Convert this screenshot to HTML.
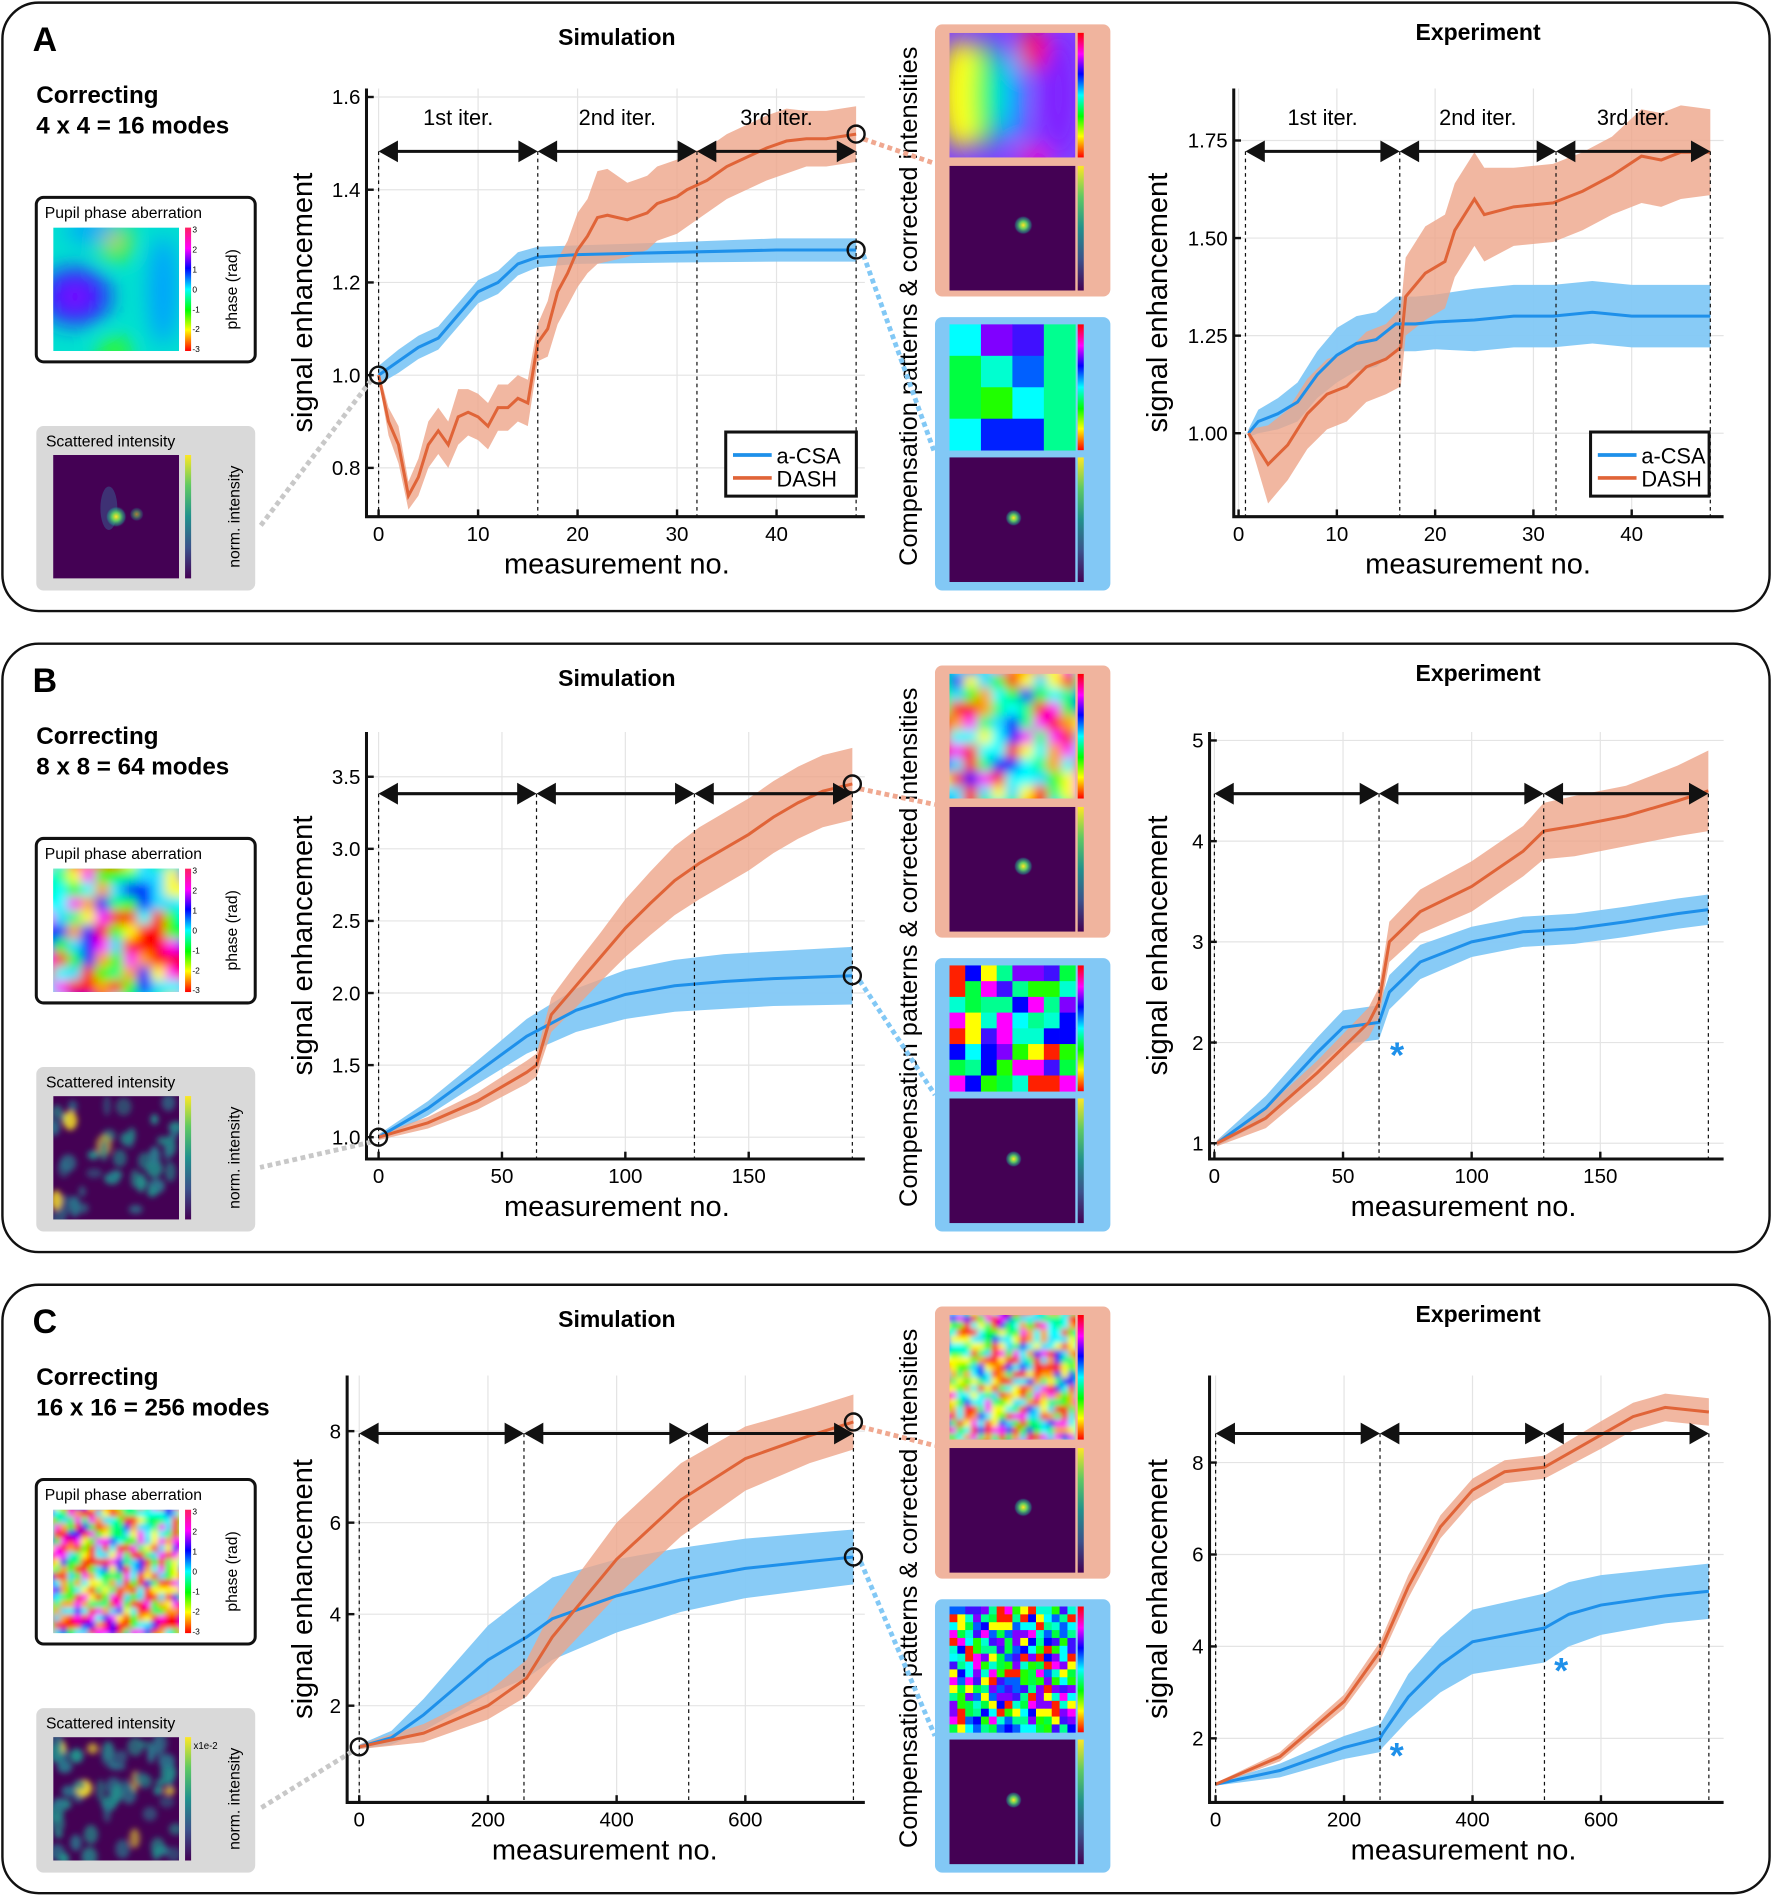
<!DOCTYPE html>
<html><head><meta charset="utf-8"><style>
html,body{margin:0;padding:0;background:#fff;}
svg{display:block;font-family:"Liberation Sans",sans-serif;}
</style></head><body>
<svg id="fig" width="1772" height="1897" viewBox="0 0 1465 1568" xmlns="http://www.w3.org/2000/svg">
<defs id="defs">
<linearGradient id="viridis" x1="0" y1="1" x2="0" y2="0"><stop offset="0" stop-color="#440154"/><stop offset="0.25" stop-color="#3b528b"/><stop offset="0.5" stop-color="#21918c"/><stop offset="0.75" stop-color="#5ec962"/><stop offset="1" stop-color="#fde725"/></linearGradient>
<linearGradient id="hsvbar" x1="0" y1="1" x2="0" y2="0"><stop offset="0" stop-color="#ff0000"/><stop offset="0.17" stop-color="#ffff00"/><stop offset="0.33" stop-color="#00ff00"/><stop offset="0.5" stop-color="#00ffff"/><stop offset="0.67" stop-color="#0000ff"/><stop offset="0.83" stop-color="#ff00ff"/><stop offset="1" stop-color="#ff0000"/></linearGradient>
<linearGradient id="jetbar" x1="0" y1="1" x2="0" y2="0"><stop offset="0" stop-color="#ff0000"/><stop offset="0.17" stop-color="#ffff00"/><stop offset="0.33" stop-color="#00ff00"/><stop offset="0.5" stop-color="#00ffff"/><stop offset="0.67" stop-color="#0000ff"/><stop offset="0.83" stop-color="#ff00ff"/><stop offset="1" stop-color="#ff2060"/></linearGradient>
<radialGradient id="spot"><stop offset="0" stop-color="#fde725"/><stop offset="0.4" stop-color="#5ec962"/><stop offset="0.8" stop-color="#21918c" stop-opacity="0.5"/><stop offset="1" stop-color="#440154" stop-opacity="0"/></radialGradient>
<filter id="blurA" x="-5%" y="-5%" width="110%" height="110%"><feGaussianBlur stdDeviation="9"/></filter>
<filter id="blurB" x="-5%" y="-5%" width="110%" height="110%"><feGaussianBlur stdDeviation="4.5"/></filter>
<filter id="blurC" x="-5%" y="-5%" width="110%" height="110%"><feGaussianBlur stdDeviation="2.5"/></filter>
<filter id="blurS" x="-50%" y="-50%" width="200%" height="200%"><feGaussianBlur stdDeviation="2.5"/></filter>
</defs>
<g id="root"></g>
</svg>
<script>
// ===== DATA =====
const aSimCsaX=[0,2,4,6,8,10,12,14,16,20,30,40,48];
const aSimCsaY=[1.0,1.03,1.06,1.08,1.13,1.18,1.2,1.24,1.255,1.26,1.265,1.27,1.27];
const aSimCsaE=[0.02,0.025,0.025,0.025,0.025,0.025,0.025,0.025,0.022,0.02,0.022,0.025,0.025];
const aSimDashX=[0,1,2,3,4,5,6,7,8,9,10,11,12,13,14,15,16,17,18,19,20,21,22,23,25,27,28,30,31,33,35,37,39,41,43,45,48];
const aSimDashY=[1.0,0.9,0.85,0.74,0.78,0.85,0.88,0.85,0.91,0.92,0.91,0.89,0.93,0.93,0.95,0.94,1.07,1.10,1.18,1.22,1.27,1.30,1.34,1.345,1.335,1.35,1.37,1.385,1.40,1.42,1.45,1.47,1.49,1.505,1.51,1.51,1.52];
const aSimDashE=[0.01,0.03,0.04,0.03,0.04,0.05,0.05,0.05,0.06,0.05,0.05,0.05,0.05,0.05,0.05,0.05,0.04,0.06,0.07,0.07,0.08,0.08,0.1,0.1,0.08,0.08,0.08,0.08,0.08,0.07,0.07,0.07,0.07,0.07,0.06,0.06,0.06];
const aExpCsaX=[1,2,4,6,8,10,12,14,16,18,20,24,28,32,36,40,44,48];
const aExpCsaY=[1.0,1.03,1.05,1.08,1.15,1.2,1.23,1.24,1.28,1.28,1.285,1.29,1.30,1.30,1.31,1.30,1.30,1.30];
const aExpCsaE=[0.01,0.03,0.04,0.05,0.06,0.07,0.07,0.07,0.07,0.07,0.07,0.08,0.08,0.08,0.08,0.08,0.08,0.08];
const aExpDashX=[1,3,5,7,9,11,13,15,16.5,17,19,21,22,24,25,28,32,35,38,41,43,45,48];
const aExpDashY=[1.0,0.92,0.97,1.05,1.10,1.12,1.17,1.19,1.22,1.35,1.41,1.44,1.52,1.6,1.56,1.58,1.59,1.62,1.66,1.71,1.70,1.72,1.72];
const aExpDashE=[0.01,0.1,0.09,0.09,0.09,0.09,0.09,0.09,0.1,0.1,0.12,0.12,0.12,0.12,0.12,0.1,0.1,0.1,0.1,0.12,0.12,0.12,0.11];
const bSimCsaX=[0,20,40,60,80,100,120,140,160,192];
const bSimCsaY=[1.0,1.2,1.45,1.7,1.88,1.99,2.05,2.08,2.1,2.12];
const bSimCsaE=[0.02,0.05,0.08,0.12,0.15,0.17,0.18,0.19,0.19,0.2];
const bSimDashX=[0,20,40,60,64,70,80,90,100,110,120,130,140,150,160,170,180,192];
const bSimDashY=[1.0,1.1,1.25,1.45,1.5,1.85,2.05,2.25,2.45,2.62,2.78,2.9,3.0,3.1,3.22,3.32,3.4,3.45];
const bSimDashE=[0.02,0.04,0.06,0.08,0.08,0.12,0.15,0.17,0.2,0.22,0.24,0.25,0.25,0.25,0.25,0.25,0.25,0.25];
const bExpCsaX=[1,20,40,50,64,68,80,100,120,140,160,180,192];
const bExpCsaY=[1.0,1.35,1.9,2.15,2.2,2.5,2.8,3.0,3.1,3.13,3.2,3.28,3.32];
const bExpCsaE=[0.03,0.12,0.15,0.17,0.17,0.17,0.17,0.15,0.15,0.15,0.15,0.15,0.15];
const bExpDashX=[1,20,40,60,64,68,80,100,120,128,140,160,180,192];
const bExpDashY=[1.0,1.25,1.7,2.2,2.4,3.0,3.3,3.55,3.9,4.1,4.15,4.25,4.4,4.5];
const bExpDashE=[0.03,0.1,0.12,0.15,0.15,0.2,0.22,0.25,0.25,0.28,0.3,0.3,0.35,0.4];
const cSimCsaX=[0,50,100,150,200,260,300,400,500,600,700,768];
const cSimCsaY=[1.1,1.3,1.8,2.4,3.0,3.5,3.9,4.4,4.75,5.0,5.15,5.25];
const cSimCsaE=[0.05,0.15,0.35,0.55,0.75,0.9,0.9,0.8,0.7,0.65,0.62,0.6];
const cSimDashX=[0,100,200,260,300,400,500,600,700,768];
const cSimDashY=[1.1,1.4,2.0,2.6,3.5,5.2,6.5,7.4,7.9,8.2];
const cSimDashE=[0.05,0.2,0.3,0.4,0.6,0.8,0.8,0.7,0.6,0.6];
const cExpCsaX=[0,100,200,256,260,300,350,400,512,550,600,700,768];
const cExpCsaY=[1.0,1.3,1.8,2.0,2.1,2.9,3.6,4.1,4.4,4.7,4.9,5.1,5.2];
const cExpCsaE=[0.03,0.15,0.25,0.3,0.3,0.5,0.6,0.7,0.75,0.7,0.65,0.6,0.6];
const cExpDashX=[0,100,200,256,300,350,400,450,512,600,650,700,768];
const cExpDashY=[1.0,1.6,2.8,3.9,5.3,6.6,7.4,7.8,7.9,8.6,9.0,9.2,9.1];
const cExpDashE=[0.03,0.1,0.15,0.2,0.25,0.25,0.25,0.25,0.25,0.3,0.3,0.3,0.3];
const aYTicksSim=[0.8,1.0,1.2,1.4,1.6];
const aYTicksExp=[1.0,1.25,1.5,1.75];
const bYTicksSim=[1.0,1.5,2.0,2.5,3.0,3.5];
const bYTicksExp=[1,2,3,4,5];
const cYTicks=[2,4,6,8];
const aXTicks=[0,10,20,30,40];
const bXTicks=[0,50,100,150];
const cXTicks=[0,200,400,600];
const aIter=[0,16,32,48], aIterExp=[0.7,16.4,32.3,48];
const bIter=[0,64,128,192], cIter=[0,256,512,768];
const iterLabels=["1st iter.","2nd iter.","3rd iter."];

const NS="http://www.w3.org/2000/svg";
const root=document.getElementById('root');
const defs=document.getElementById('defs');
function mk(tag,attrs,parent,text){const e=document.createElementNS(NS,tag);for(const k in attrs)e.setAttribute(k,attrs[k]);if(text!==undefined)e.textContent=text;(parent||root).appendChild(e);return e;}
function fmt(v,d){return v.toFixed(d);}
let seed=12345;function rnd(){seed=(seed*1103515245+12345)%2147483648;return seed/2147483648;}
let clipN=0;
function clipped(g,x,y,w,h){clipN++;const cp=mk('clipPath',{id:'cp'+clipN},defs);mk('rect',{x:x,y:y,width:w,height:h},cp);return mk('g',{'clip-path':`url(#cp${clipN})`},g);}
const rainbow=['#ff0000','#ffff00','#00ff00','#00ffff','#0000ff','#ff00ff','#ff0000','#00ff80','#20e0ff','#ffa000'];
function blobImage(g,x,y,w,h,n,blur,pal,name){
  const c=clipped(g,x,y,w,h);
  
  
  mk('rect',{x:x,y:y,width:w,height:h,fill:'#00ffff'},c);
  const f=mk('g',{filter:`url(#${blur})`},c);
  const cs=w/n;
  for(let i=-1;i<=n;i++)for(let j=-1;j<=n;j++){mk('rect',{x:x+j*cs,y:y+i*cs,width:cs+0.5,height:cs+0.5,fill:pal[Math.floor(rnd()*pal.length)]},f);}
}
function speckle(g,x,y,w,h,count,name){
  const c=clipped(g,x,y,w,h);
  
  
  mk('rect',{x:x,y:y,width:w,height:h,fill:'#440154'},c);
  const f=mk('g',{filter:'url(#blurS)'},c);
  for(let k=0;k<count;k++){const col=rnd()<0.08?'#fde725':(rnd()<0.5?'#2a788e':'#21918c');
    mk('ellipse',{cx:x+rnd()*w,cy:y+rnd()*h,rx:3+rnd()*4,ry:3+rnd()*6,fill:col,opacity:0.5+rnd()*0.5},f);}
}

// ===== PANELS (static) =====
const panelLetters=["A","B","C"];
const modes=["4 x 4 = 16 modes","8 x 8 = 64 modes","16 x 16 = 256 modes"];
const blurs=["blurA","blurB","blurC"];
const grids=[4,9,18];
for(let p=0;p<3;p++){
  const dy=p*530;
  const g=mk('g',{transform:`translate(0,${dy})`});
  
  
  const fr=mk('rect',{x:2,y:2,width:1461,height:503,rx:30,fill:'#fff',stroke:'#111','stroke-width':2},g);
  
  const L=mk('text',{x:27,y:42,'font-size':28,'font-weight':'bold'},g,panelLetters[p]);
  
  const c1=mk('text',{x:30,y:85,'font-size':20,'font-weight':'bold'},g,'Correcting');
  
  const c2=mk('text',{x:30,y:110,'font-size':20,'font-weight':'bold'},g,modes[p]);
  
  // pupil box
  const pb=mk('rect',{x:30,y:163,width:181,height:136,rx:6,fill:'#fff',stroke:'#111','stroke-width':2.5},g);
  
  const pt=mk('text',{x:37,y:180,'font-size':13},g,'Pupil phase aberration');
  
  if(p===0){
    const c=clipped(g,44,188,104,102);
    mk('rect',{x:44,y:188,width:104,height:102,fill:'#00e0d0'},c);
    const f=mk('g',{filter:'url(#blurA)'},c);
    mk('ellipse',{cx:62,cy:245,rx:30,ry:24,fill:'#2020ff'},f);mk('ellipse',{cx:62,cy:245,rx:14,ry:11,fill:'#8000ff'},f);
    mk('ellipse',{cx:95,cy:200,rx:14,ry:16,fill:'#40ff00'},f);mk('ellipse',{cx:95,cy:198,rx:7,ry:8,fill:'#ffa000'},f);
    mk('ellipse',{cx:95,cy:290,rx:14,ry:10,fill:'#40ff00'},f);mk('ellipse',{cx:135,cy:240,rx:12,ry:45,fill:'#00a0ff'},f);
    mk('ellipse',{cx:75,cy:190,rx:20,ry:10,fill:'#00a0ff'},f);
  } else blobImage(g,44,188,104,102,grids[p],blurs[p],rainbow,'pupil-phase-image');
  const pcb=mk('rect',{x:153,y:188,width:5,height:102,fill:'url(#jetbar)'},g);
  
  ['3','2','1','0','-1','-2','-3'].forEach((t,i)=>{mk('text',{x:159,y:192+i*16.5,'font-size':7},g,t);});
  const pr=mk('text',{x:0,y:0,'font-size':13,transform:'translate(196,239) rotate(-90)','text-anchor':'middle'},g,'phase (rad)');
  
  // scattered box
  const sb=mk('rect',{x:30,y:352,width:181,height:136,rx:6,fill:'#d9d9d9'},g);
  
  const st=mk('text',{x:38,y:369,'font-size':13},g,'Scattered intensity');
  
  if(p===0){mk('rect',{x:44,y:376,width:104,height:102,fill:'#440154'},g);
    mk('ellipse',{cx:90,cy:420,rx:7,ry:18,fill:'#3b528b',opacity:0.6},g);
    mk('circle',{cx:96,cy:427,r:9,fill:'url(#spot)'},g);mk('circle',{cx:113,cy:425,r:6,fill:'url(#spot)',opacity:0.55},g);}
  else speckle(g,44,376,104,102,p===1?45:60,'speckle-image');
  mk('rect',{x:153,y:376,width:5,height:102,fill:'url(#viridis)'},g);
  const sl=mk('text',{x:0,y:0,'font-size':13,transform:'translate(198,427) rotate(-90)','text-anchor':'middle'},g,'norm. intensity');
  
  if(p===2)mk('text',{x:160,y:386,'font-size':8},g,'x1e-2');
  // middle column
  const ml=mk('text',{x:0,y:0,'font-size':21,transform:'translate(758,253) rotate(-90)','text-anchor':'middle'},g,'Compensation patterns & corrected intensities');
  
  const ob=mk('rect',{x:773,y:20,width:145,height:225,rx:6,fill:'#f0b49e'},g);
  
  const bb=mk('rect',{x:773,y:262,width:145,height:226,rx:6,fill:'#82c8f5'},g);
  
  if(p===0){
    const c=clipped(g,785,27,104,103);
    mk('rect',{x:785,y:27,width:104,height:103,fill:'#8040ff'},c);
    const f=mk('g',{filter:'url(#blurA)'},c);
    mk('ellipse',{cx:795,cy:78,rx:18,ry:45,fill:'#ffff00'},f);mk('ellipse',{cx:815,cy:78,rx:10,ry:45,fill:'#00ff60'},f);
    mk('ellipse',{cx:835,cy:78,rx:10,ry:40,fill:'#00c0ff'},f);mk('ellipse',{cx:855,cy:40,rx:12,ry:18,fill:'#ff0060'},f);
    mk('ellipse',{cx:855,cy:130,rx:14,ry:8,fill:'#ff00c0'},f);mk('ellipse',{cx:875,cy:78,rx:14,ry:50,fill:'#8020ff'},f);
  } else blobImage(g,785,27,104,103,grids[p],blurs[p],rainbow,'dash-pattern-image');
  mk('rect',{x:891,y:27,width:5,height:103,fill:'url(#hsvbar)'},g);
  mk('rect',{x:785,y:137,width:104,height:103,fill:'#440154'},g);
  mk('circle',{cx:846,cy:186,r:8,fill:'url(#spot)'},g);
  mk('rect',{x:891,y:137,width:5,height:103,fill:'url(#viridis)'},g);
  const n=[4,8,16][p];const cs=104/n;
  const pal=['#00ffff','#8000ff','#4010ff','#00ff90','#00ff40','#00ffd0','#0060ff','#20ff00','#ff00ff','#ffff00','#ff2000','#0000ff'];
  const pg=mk('g',{},g);
  const a4=['#00ffff','#8000ff','#4010ff','#00ff90','#00ff40','#00ffd0','#0060ff','#00ff90','#00ff40','#20ff00','#00ffff','#00ff90','#00ffff','#0020ff','#0020ff','#00ff90'];
  for(let i=0;i<n;i++)for(let j=0;j<n;j++){const col=p===0?a4[i*4+j]:pal[Math.floor(rnd()*pal.length)];mk('rect',{x:785+j*cs,y:268+i*cs,width:cs+0.3,height:cs+0.3,fill:col},pg);}
  mk('rect',{x:891,y:268,width:5,height:104,fill:'url(#hsvbar)'},g);
  mk('rect',{x:785,y:378,width:104,height:103,fill:'#440154'},g);
  mk('circle',{cx:838,cy:428,r:7,fill:'url(#spot)'},g);
  mk('rect',{x:891,y:378,width:5,height:103,fill:'url(#viridis)'},g);
  const s1=mk('text',{x:510,y:37,'font-size':19,'font-weight':'bold','text-anchor':'middle'},g,'Simulation');
  
  const s2=mk('text',{x:1222,y:33,'font-size':19,'font-weight':'bold','text-anchor':'middle'},g,'Experiment');
  
}

// ===== PLOTS =====
function plot(cfg){
  const g=mk('g',{});
  
  
  const sx=v=>cfg.x0+(v)*cfg.xk;
  const sy=v=>cfg.y0-(v-cfg.yref)*cfg.yk;
  cfg.xt.forEach(t=>{mk('line',{x1:sx(t),x2:sx(t),y1:cfg.top,y2:cfg.bot,stroke:'#e4e4e4','stroke-width':1},g);});
  cfg.yt.forEach(t=>{mk('line',{x1:cfg.left,x2:cfg.right,y1:sy(t),y2:sy(t),stroke:'#e4e4e4','stroke-width':1},g);});
  const series=[[cfg.csaX,cfg.csaY,cfg.csaE,'#82c8f5','#1e90ea','acsa'],[cfg.dashX,cfg.dashY,cfg.dashE,'#eea58a','#e06438','dash']];
  series.forEach(s=>{
    const [X,Y,E,fc,lc,nm]=s;
    let d='M'+X.map((x,i)=>sx(x)+','+sy(Y[i]+E[i])).join(' L');
    for(let i=X.length-1;i>=0;i--)d+=' L'+sx(X[i])+','+sy(Y[i]-E[i]);
    const b=mk('path',{d:d+'Z',fill:fc,'fill-opacity':nm==='acsa'?0.95:0.8},g);
    
    
  });
  series.forEach(s=>{
    const [X,Y,E,fc,lc,nm]=s;
    const l=mk('polyline',{points:X.map((x,i)=>sx(x)+','+sy(Y[i])).join(' '),fill:'none',stroke:lc,'stroke-width':2.5},g);
    
    
  });
  cfg.iter.forEach(t=>{mk('line',{x1:sx(t),x2:sx(t),y1:cfg.arrowY,y2:cfg.bot,stroke:'#111','stroke-width':1,'stroke-dasharray':'3,3'},g);});
  for(let i=0;i<3;i++){
    const a=sx(cfg.iter[i]),b=sx(cfg.iter[i+1]),y=cfg.arrowY;
    const ar=mk('g',{},g);
    
    
    mk('line',{x1:a+10,x2:b-10,y1:y,y2:y,stroke:'#111','stroke-width':2.5},ar);
    mk('polygon',{points:`${a},${y} ${a+16},${y-9} ${a+16},${y+9}`,fill:'#111'},ar);
    mk('polygon',{points:`${b},${y} ${b-16},${y-9} ${b-16},${y+9}`,fill:'#111'},ar);
    if(cfg.labels){const t=mk('text',{x:(a+b)/2,y:y-22,'font-size':18,'text-anchor':'middle'},g,iterLabels[i]);}
  }
  const ax=mk('path',{d:`M${cfg.left},${cfg.top} L${cfg.left},${cfg.bot} L${cfg.right},${cfg.bot}`,fill:'none',stroke:'#111','stroke-width':2.5},g);
  
  cfg.xt.forEach(t=>{mk('line',{x1:sx(t),x2:sx(t),y1:cfg.bot,y2:cfg.bot-6,stroke:'#111','stroke-width':2},g);
    const tl=mk('text',{x:sx(t),y:cfg.bot+20,'font-size':17,'text-anchor':'middle'},g,String(t));});
  cfg.yt.forEach(t=>{mk('line',{x1:cfg.left,x2:cfg.left+6,y1:sy(t),y2:sy(t),stroke:'#111','stroke-width':2},g);
    const tl=mk('text',{x:cfg.left-5,y:sy(t)+6,'font-size':17,'text-anchor':'end'},g,fmt(t,cfg.yd));});
  const xl=mk('text',{x:cfg.xlabX,y:cfg.bot+47,'font-size':24,'text-anchor':'middle'},g,'measurement no.');
  
  const yl=mk('text',{x:0,y:0,'font-size':24,'text-anchor':'middle',transform:`translate(${cfg.ylabX},${(cfg.top+cfg.bot)/2}) rotate(-90)`},g,'signal enhancement');
  
  if(cfg.legend){
    const [lx,ly]=cfg.legend;
    const lg=mk('g',{},g);
    mk('rect',{x:lx,y:ly,width:cfg.legW,height:53,fill:'#fff',stroke:'#111','stroke-width':2.5},lg);
    mk('line',{x1:lx+6,x2:lx+38,y1:ly+19,y2:ly+19,stroke:'#1e90ea','stroke-width':3},lg);
    mk('line',{x1:lx+6,x2:lx+38,y1:ly+38,y2:ly+38,stroke:'#e06438','stroke-width':3},lg);
    mk('text',{x:lx+42,y:ly+26,'font-size':18},lg,'a-CSA');
    mk('text',{x:lx+42,y:ly+45,'font-size':18},lg,'DASH');
  }
  if(cfg.circles){
    const pts=[[cfg.csaX[0],cfg.csaY[0]],[cfg.dashX[cfg.dashX.length-1],cfg.dashY[cfg.dashY.length-1]],[cfg.csaX[cfg.csaX.length-1],cfg.csaY[cfg.csaY.length-1]]];
    const targets=[[215,cfg.ofs+435,'#c8c8c8'],[773,cfg.ofs+135,'#f0a890'],[773,cfg.ofs+375,'#82c8f5']];
    pts.forEach((pt,i)=>{
      const cx=sx(pt[0]),cy=sy(pt[1]);
      const cn=mk('line',{x1:cx+(i?6:-6),y1:cy+4,x2:targets[i][0],y2:targets[i][1],stroke:targets[i][2],'stroke-width':4,'stroke-dasharray':'4,3'},g);
      
      const c=mk('circle',{cx:cx,cy:cy,r:7,fill:'none',stroke:'#111','stroke-width':2},g);
      
    });
  }
  (cfg.stars||[]).forEach(s=>{const t=mk('text',{x:sx(s[0]),y:sy(s[1]),'font-size':30,'font-weight':'bold',fill:'#1e90ea','text-anchor':'middle'},g,'*');});
}
plot({name:'plot-a-simulation',x0:313,xk:8.225,y0:310,yref:1,yk:383.3,left:303,right:715,top:73,bot:427,xt:aXTicks,yt:aYTicksSim,yd:1,csaX:aSimCsaX,csaY:aSimCsaY,csaE:aSimCsaE,dashX:aSimDashX,dashY:aSimDashY,dashE:aSimDashE,iter:aIter,arrowY:125,labels:true,legend:[600,357],legW:108,xlabX:510,ylabX:258,circles:true,ofs:0});
plot({name:'plot-a-experiment',x0:1024,xk:8.125,y0:358,yref:1,yk:322.7,left:1020,right:1425,top:73,bot:427,xt:aXTicks,yt:aYTicksExp,yd:2,csaX:aExpCsaX,csaY:aExpCsaY,csaE:aExpCsaE,dashX:aExpDashX,dashY:aExpDashY,dashE:aExpDashE,iter:aIterExp,arrowY:125,labels:true,legend:[1315,357],legW:98,xlabX:1222,ylabX:965});
plot({name:'plot-b-simulation',x0:313,xk:2.04,y0:940,yref:1,yk:119.2,left:303,right:715,top:605,bot:958,xt:bXTicks,yt:bYTicksSim,yd:1,csaX:bSimCsaX,csaY:bSimCsaY,csaE:bSimCsaE,dashX:bSimDashX,dashY:bSimDashY,dashE:bSimDashE,iter:bIter,arrowY:656,xlabX:510,ylabX:258,circles:true,ofs:530});
plot({name:'plot-b-experiment',x0:1004,xk:2.127,y0:945,yref:1,yk:83.25,left:1000,right:1425,top:605,bot:958,xt:bXTicks,yt:bYTicksExp,yd:0,csaX:bExpCsaX,csaY:bExpCsaY,csaE:bExpCsaE,dashX:bExpDashX,dashY:bExpDashY,dashE:bExpDashE,iter:bIter,arrowY:656,xlabX:1210,ylabX:965,stars:[[71,1.75]]});
plot({name:'plot-c-simulation',x0:297,xk:0.532,y0:1410,yref:2,yk:37.83,left:287,right:715,top:1137,bot:1490,xt:cXTicks,yt:cYTicks,yd:0,csaX:cSimCsaX,csaY:cSimCsaY,csaE:cSimCsaE,dashX:cSimDashX,dashY:cSimDashY,dashE:cSimDashE,iter:cIter,arrowY:1185,xlabX:500,ylabX:258,circles:true,ofs:1060});
plot({name:'plot-c-experiment',x0:1005,xk:0.531,y0:1437,yref:2,yk:38,left:1000,right:1425,top:1137,bot:1490,xt:cXTicks,yt:cYTicks,yd:0,csaX:cExpCsaX,csaY:cExpCsaY,csaE:cExpCsaE,dashX:cExpDashX,dashY:cExpDashY,dashE:cExpDashE,iter:cIter,arrowY:1185,xlabX:1210,ylabX:965,stars:[[282,1.35],[538,3.2]]});
</script>
</body></html>
